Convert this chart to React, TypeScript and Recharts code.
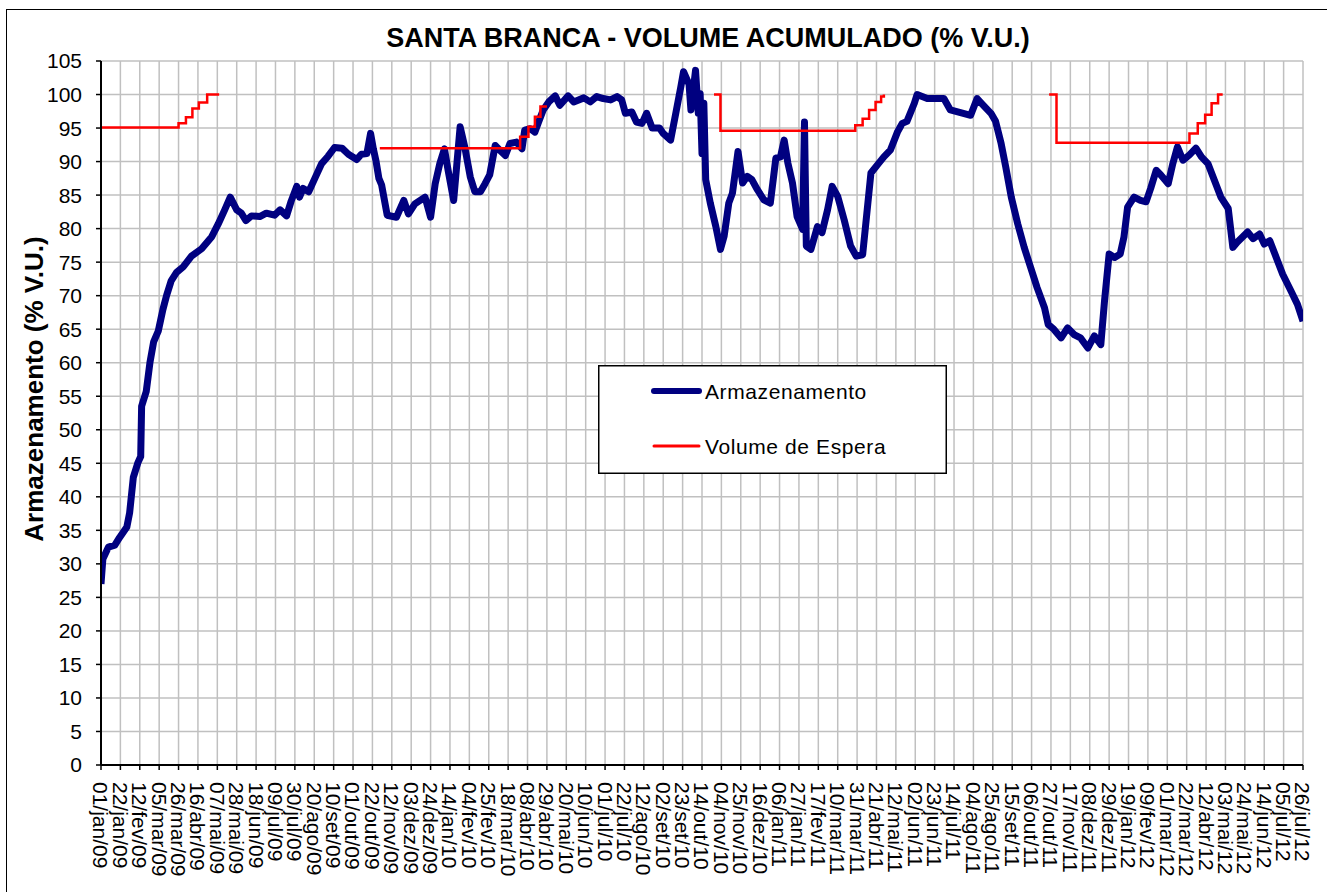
import React from 'react';
import { LineChart, Line, XAxis, YAxis, CartesianGrid, Legend, Label } from 'recharts';

const FONT = "Arial, 'Liberation Sans', sans-serif";

// x axis: one label every 21 days, starting 01/jan/09 (day 0)
const TICK_STEP_DAYS = 21;
const tickLabels = [
  '01/jan/09', '22/jan/09', '12/fev/09', '05/mar/09', '26/mar/09', '16/abr/09', '07/mai/09', '28/mai/09',
  '18/jun/09', '09/jul/09', '30/jul/09', '20/ago/09', '10/set/09', '01/out/09', '22/out/09', '12/nov/09',
  '03/dez/09', '24/dez/09', '14/jan/10', '04/fev/10', '25/fev/10', '18/mar/10', '08/abr/10', '29/abr/10',
  '20/mai/10', '10/jun/10', '01/jul/10', '22/jul/10', '12/ago/10', '02/set/10', '23/set/10', '14/out/10',
  '04/nov/10', '25/nov/10', '16/dez/10', '06/jan/11', '27/jan/11', '17/fev/11', '10/mar/11', '31/mar/11',
  '21/abr/11', '12/mai/11', '02/jun/11', '23/jun/11', '14/jul/11', '04/ago/11', '25/ago/11', '15/set/11',
  '06/out/11', '27/out/11', '17/nov/11', '08/dez/11', '29/dez/11', '19/jan/12', '09/fev/12', '01/mar/12',
  '22/mar/12', '12/abr/12', '03/mai/12', '24/mai/12', '14/jun/12', '05/jul/12', '26/jul/12',
];
const xTicks = tickLabels.map((_, i) => i * TICK_STEP_DAYS);
const yTicks = [0, 5, 10, 15, 20, 25, 30, 35, 40, 45, 50, 55, 60, 65, 70, 75, 80, 85, 90, 95, 100, 105];

// Armazenamento (% V.U.) — days since 01/jan/09
const storageDays = [
  0, 2, 8, 15, 20, 28, 31, 35, 40, 43, 44, 49, 53, 57, 62, 67, 71, 76, 82, 89, 98, 109, 120, 127, 134, 140,
  147, 152, 157, 163, 172, 179, 188, 194, 201, 206, 212, 215, 219, 225, 232, 239, 246, 253, 261, 268, 277,
  282, 288, 292, 295, 298, 301, 304, 306, 310, 320, 328, 333, 340, 351, 357, 362, 367, 372, 376, 382, 389,
  394, 400, 405, 411, 416, 421, 427, 432, 438, 443, 450, 456, 459, 465, 470, 474, 479, 485, 492, 497, 506,
  512, 523, 530, 537, 544, 552, 559, 564, 568, 575, 580, 586, 591, 597, 605, 609, 617, 623, 628, 631, 637,
  639, 644, 647, 649, 651, 653, 655, 660, 666, 671, 675, 680, 684, 690, 695, 700, 705, 711, 718, 725, 731,
  736, 740, 744, 749, 754, 760, 762, 764, 769, 776, 781, 787, 792, 798, 805, 812, 818, 825, 834, 841, 848,
  855, 863, 868, 873, 881, 884, 895, 913, 920, 931, 942, 949, 955, 964, 969, 975, 980, 986, 993, 1000, 1007,
  1014, 1022, 1026, 1032, 1040, 1047, 1054, 1061, 1069, 1076, 1083, 1087, 1092, 1098, 1104, 1108, 1112,
  1119, 1126, 1132, 1137, 1143, 1148, 1156, 1161, 1166, 1172, 1179, 1186, 1192, 1199, 1206, 1213, 1221,
  1226, 1231, 1242, 1248, 1255, 1260, 1266, 1273, 1280, 1289, 1296, 1302,
];
const storageValues = [
  27.0, 30.7, 32.5, 32.8, 33.9, 35.5, 37.6, 42.9, 45.1, 46.0, 53.5, 55.7, 60.0, 63.1, 64.7, 67.9, 70.0, 72.2,
  73.5, 74.3, 75.9, 77.0, 78.8, 80.7, 82.8, 84.7, 82.8, 82.3, 81.2, 81.9, 81.8, 82.3, 82.0, 82.8, 81.9, 84.1,
  86.3, 84.7, 86.0, 85.5, 87.6, 89.7, 90.8, 92.1, 92.0, 91.1, 90.3, 91.1, 91.2, 94.2, 91.9, 90.0, 87.5, 86.5,
  85.0, 82.0, 81.7, 84.2, 82.2, 83.7, 84.7, 81.7, 86.7, 89.7, 91.9, 88.7, 84.2, 95.2, 92.2, 87.7, 85.5, 85.5,
  86.7, 88.0, 92.4, 91.7, 90.9, 92.7, 92.9, 91.9, 94.7, 94.9, 94.4, 95.9, 97.7, 98.9, 99.8, 98.4, 99.8, 98.9,
  99.5, 98.9, 99.7, 99.4, 99.2, 99.7, 99.2, 97.2, 97.4, 95.9, 95.7, 97.2, 95.0, 95.0, 94.2, 93.2, 97.5, 101.1,
  103.4, 101.5, 97.7, 103.6, 97.2, 100.1, 91.2, 98.7, 87.3, 83.8, 80.3, 76.9, 78.9, 83.8, 85.3, 91.5, 86.8,
  87.8, 87.3, 85.8, 84.3, 83.8, 90.5, 90.7, 93.2, 89.8, 86.8, 81.8, 79.9, 95.9, 77.4, 76.9, 80.3, 79.4, 82.8,
  86.3, 84.8, 81.3, 77.4, 75.9, 76.1, 88.3, 89.5, 90.7, 91.7, 94.5, 95.7, 96.0, 98.7, 100.0, 99.4, 99.4, 97.7,
  97.3, 96.9, 99.4, 98.5, 97.2, 96.0, 92.7, 89.2, 84.7, 80.7, 77.2, 74.2, 71.2, 68.2, 65.7, 65.0, 63.7, 65.2,
  64.2, 63.7, 62.2, 64.0, 62.7, 69.2, 76.2, 75.7, 76.2, 78.7, 83.2, 84.7, 84.2, 84.0, 86.0, 88.7, 88.0, 86.7,
  89.7, 92.2, 90.2, 91.0, 92.0, 90.7, 89.7, 87.2, 84.7, 83.0, 77.2, 78.0, 79.5, 78.5, 79.2, 77.7, 78.2, 75.7,
  73.2, 70.7, 68.7, 66.2,
];

// Volume de Espera (% V.U.) — stepped, null = no flood-control period
const waitDays = [
  0, 84, 92, 99, 106, 115, 128, 200,
  302, 454, 463, 470, 476, 483, 570,
  664, 671, 817, 825, 832, 839, 845, 848, 950,
  1027, 1035, 1179, 1188, 1196, 1203, 1210, 1215,
];
const waitValues = [
  95.1, 95.7, 96.6, 97.9, 98.8, 100, 100, null,
  92.0, 93.7, 95.2, 96.7, 98.2, 98.2, null,
  100, 94.6, 95.4, 96.4, 97.7, 98.9, 99.7, 100, null,
  100, 92.8, 94.2, 95.7, 97.0, 98.7, 100, 100,
];

const storageData = storageDays.map((d, i) => ({ d, v: storageValues[i] }));
const waitData = waitDays.map((d, i) => ({ d, v: waitValues[i] }));

const swatchWidth: Record<string, number> = { Armazenamento: 6, 'Volume de Espera': 3 };

const DateTick = (props: any) => {
  const { x, y, payload } = props;
  const label = tickLabels[Math.round(payload.value / TICK_STEP_DAYS)];
  return (
    <text
      transform={`translate(${x},${y}) rotate(90)`}
      textAnchor="start"
      dy="0.36em"
      fontSize={21}
      fontFamily={FONT}
      fill="#000"
    >
      {label}
    </text>
  );
};

const AxisTitle = (props: any) => {
  const vx = props.viewBox ? props.viewBox.x : 11;
  return (
    <text
      transform={`translate(${vx + 32},389) rotate(-90)`}
      textAnchor="middle"
      fontSize={26}
      fontWeight="bold"
      fontFamily={FONT}
      fill="#000"
    >
      Armazenamento (% V.U.)
    </text>
  );
};

const LegendBox = (props: any) => {
  const items = props.payload || [];
  return (
    <svg width={349} height={109} style={{ display: 'block' }}>
      <rect x={0.75} y={0.75} width={347.5} height={107.5} fill="#fff" stroke="#000" strokeWidth={1.5} />
      {items.map((item: any, i: number) => {
        const cy = 26 + i * 55;
        return (
          <g key={item.value}>
            <line
              x1={56}
              x2={101}
              y1={cy}
              y2={cy}
              stroke={item.color}
              strokeWidth={swatchWidth[item.value] || 3}
              strokeLinecap="round"
            />
            <text x={107} y={cy + 8} fontSize={21} letterSpacing={0.6} fontFamily={FONT} fill="#000">
              {item.value}
            </text>
          </g>
        );
      })}
    </svg>
  );
};

export default function App() {
  return (
    <div style={{ position: 'absolute', left: 0, top: 0, width: 1327, height: 892, background: '#fff', fontFamily: FONT }}>
      <div
        style={{
          position: 'absolute',
          left: 6,
          top: 9,
          width: 1340,
          height: 900,
          border: '1.5px solid #000',
          boxSizing: 'border-box',
        }}
      />
      <svg width={1327} height={60} style={{ position: 'absolute', left: 0, top: 0 }}>
        <text x={708} y={47} textAnchor="middle" fontSize={27} fontWeight="bold" fontFamily={FONT} fill="#000">
          SANTA BRANCA - VOLUME ACUMULADO (% V.U.)
        </text>
      </svg>
      <div style={{ position: 'absolute', left: 0, top: 0 }}>
        <LineChart width={1327} height={892} margin={{ top: 61, right: 24, left: 11, bottom: 7 }}>
          <CartesianGrid stroke="#c0c0c0" strokeWidth={1.5} />
          <XAxis
            dataKey="d"
            type="number"
            domain={[0, 1302]}
            ticks={xTicks}
            interval={0}
            height={120}
            tickSize={5}
            tickMargin={12}
            tick={<DateTick />}
            axisLine={{ stroke: '#000', strokeWidth: 2 }}
            tickLine={{ stroke: '#000', strokeWidth: 1.5 }}
            allowDataOverflow
          />
          <YAxis
            type="number"
            domain={[0, 105]}
            ticks={yTicks}
            interval={0}
            width={90}
            tickSize={5}
            tickMargin={14}
            tick={{ fontSize: 21, fill: '#000', fontFamily: FONT }}
            axisLine={{ stroke: '#000', strokeWidth: 2 }}
            tickLine={{ stroke: '#000', strokeWidth: 1.5 }}
            allowDataOverflow
          >
            <Label content={<AxisTitle />} />
          </YAxis>
          <Legend
            layout="vertical"
            align="center"
            verticalAlign="middle"
            content={<LegendBox />}
            wrapperStyle={{ position: 'absolute', left: 598, top: 365, width: 349, height: 109 }}
          />
          <Line
            data={storageData}
            dataKey="v"
            name="Armazenamento"
            type="linear"
            stroke="#000080"
            strokeWidth={7}
            strokeLinejoin="round"
            dot={false}
            activeDot={false}
            isAnimationActive={false}
          />
          <Line
            data={waitData}
            dataKey="v"
            name="Volume de Espera"
            type="stepAfter"
            stroke="#ff0000"
            strokeWidth={2.5}
            dot={false}
            activeDot={false}
            connectNulls={false}
            isAnimationActive={false}
          />
        </LineChart>
      </div>
    </div>
  );
}
